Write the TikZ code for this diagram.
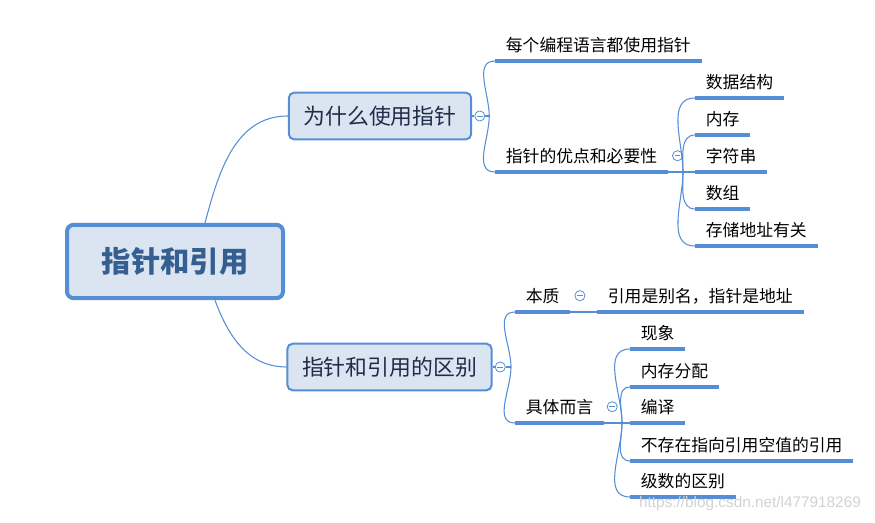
\documentclass[tikz,border=0pt]{standalone}
\usepackage{fontspec}
\setmainfont{Noto Sans CJK SC}
\newfontfamily\wmfont{Liberation Sans}
\usetikzlibrary{positioning}
\definecolor{linec}{HTML}{558ED5}
\definecolor{boxfill}{HTML}{DBE5F1}
\definecolor{roottext}{HTML}{365F91}
\definecolor{boxtext}{HTML}{1F2D4A}

\begin{document}
\begin{tikzpicture}[x=0.75pt, y=-0.75pt,
    root/.style = {draw=linec, line width=3pt, fill=boxfill, rounded corners=5pt, minimum width=162pt, minimum height=55pt, text=roottext, font=\fontsize{22}{26}\selectfont\bfseries},
    branch/.style = {draw=linec, line width=1.5pt, fill=boxfill, rounded corners=4pt, minimum height=35pt, inner xsep=11pt, text=boxtext, font=\fontsize{16.4}{20}\selectfont},
    uline/.style = {draw=linec, line width=2.6pt},
    leaf/.style = {anchor=south west, inner xsep=8pt, inner ysep=4.7pt, text height=12.1pt, text depth=2.5pt, font=\fontsize{12.6}{15}\selectfont,
        append after command={(\tikzlastnode.south west) edge[uline] (\tikzlastnode.south east)}},
    link/.style = {draw=linec, line width=0.8pt},
    fold/.style = {circle, draw=linec, fill=white, line width=0.6pt, minimum size=7.6pt, inner sep=0pt,
        path picture={\draw[linec, line width=0.6pt] ([xshift=-2.2pt]path picture bounding box.center) -- ([xshift=2.2pt]path picture bounding box.center);}}]
    \useasboundingbox (0,0) rectangle (875,523);
    % central topic and main branches
    \node[root]   (root) at (175,261.5) {指针和引用};
    \node[branch] (why)  at (380,116)   {为什么使用指针};
    \node[branch] (diff) at (389.5,367) {指针和引用的区别};
    \node[fold, right=1.6pt of why]  (whyfold)  {};
    \node[fold, right=1.6pt of diff] (difffold) {};
    \draw[link] ([xshift=22.5pt]root.north) to[out=75,in=180]  (why.west);
    \draw[link] ([xshift=30pt]root.south)   to[out=-70,in=180] (diff.west);
    \draw[link] (why)  -- (whyfold);
    \draw[link] (diff) -- (difffold);

    % why use pointers
    \node[leaf] (every) at (495,61)  {每个编程语言都使用指针};
    \node[leaf] (merit) at (495,172) {指针的优点和必要性};
    \node[fold, right=3pt of merit] (meritfold) {};
    \coordinate (j1) at ([xshift=3pt]whyfold.east);
    \draw[link] (whyfold.east) -- (j1);
    \draw[link] (j1) to[out=90,in=180]  (every.south west);
    \draw[link] (j1) to[out=-90,in=180] (merit.south west);

    \node[leaf] (ds)   at (695,98)  {数据结构};
    \node[leaf] (mem)  at (695,135) {内存};
    \node[leaf] (str)  at (695,172) {字符串};
    \node[leaf] (arr)  at (695,209) {数组};
    \node[leaf] (addr) at (695,246) {存储地址有关};
    \coordinate (j2) at ([xshift=-9pt]str.south west);
    \draw[link] (merit.south east) -- (str.south west);
    \draw[link] (j2) to[out=90,in=180]  (ds.south west);
    \draw[link] (j2) to[out=90,in=180]  (mem.south west);
    \draw[link] (j2) to[out=-90,in=180] (arr.south west);
    \draw[link] (j2) to[out=-90,in=180] (addr.south west);

    % difference
    \node[leaf] (ess)   at (515,312) {本质};
    \node[leaf] (alias) at (597,312) {引用是别名，指针是地址};
    \node[leaf] (conc)  at (515,423) {具体而言};
    \node[fold, right=3pt of ess]  (essfold)  {};
    \node[fold, right=2pt of conc] (concfold) {};
    \coordinate (j3) at ([xshift=4pt]difffold.east);
    \draw[link] (difffold.east) -- (j3);
    \draw[link] (j3) to[out=90,in=180]  (ess.south west);
    \draw[link] (j3) to[out=-90,in=180] (conc.south west);
    \draw[link] (ess.south east) -- (alias.south west);

    \node[leaf] (phen)  at (630,349) {现象};
    \node[leaf] (alloc) at (630,387) {内存分配};
    \node[leaf] (comp)  at (630,423) {编译};
    \node[leaf] (null)  at (630,461) {不存在指向引用空值的引用};
    \node[leaf] (level) at (630,497) {级数的区别};
    \coordinate (j4) at ([xshift=-6pt]comp.south west);
    \draw[link] (conc.south east) -- (comp.south west);
    \draw[link] (j4) to[out=90,in=180]  (phen.south west);
    \draw[link] (j4) to[out=90,in=180]  (alloc.south west);
    \draw[link] (j4) to[out=-90,in=180] (null.south west);
    \draw[link] (j4) to[out=-90,in=180] (level.south west);

    \node[text=gray!35, font=\wmfont\fontsize{11.5}{13}\selectfont] (mark) at (750,504) {https://blog.csdn.net/l477918269};
\end{tikzpicture}
\end{document}
